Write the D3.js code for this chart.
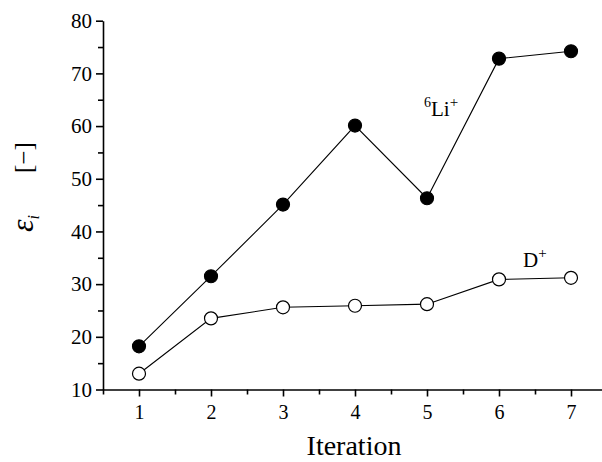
<!DOCTYPE html>
<html>
<head>
<meta charset="utf-8">
<script src="https://cdn.jsdelivr.net/npm/d3@7"></script>
<style>
  body { margin: 0; background: #fff; }
  svg { display: block; font-family: "Liberation Serif", "DejaVu Serif", serif; }
</style>
</head>
<body>
<div id="chart"></div>
<script>
const iterations = [1, 2, 3, 4, 5, 6, 7];
const li6 = [18.2, 31.5, 45.1, 60.1, 46.3, 72.8, 74.2];
const deut = [13.0, 23.5, 25.6, 25.9, 26.2, 30.9, 31.2];
const yTicks = [10, 20, 30, 40, 50, 60, 70, 80];

const width = 602, height = 462;

const x = d3.scaleLinear().domain([0.5, 7.5]).range([103, 607]);
const y = d3.scaleLinear().domain([10, 80]).range([389.5, 20.7]);

const svg = d3.select("#chart").append("svg")
    .attr("width", width)
    .attr("height", height)
    .attr("viewBox", [0, 0, width, height]);

// minor ticks
svg.append("g")
    .attr("transform", `translate(0,${y(10)})`)
    .call(d3.axisBottom(x).tickValues(d3.range(0.5, 8, 1)).tickSize(5).tickFormat(""))
    .call(g => g.select(".domain").remove());
svg.append("g")
    .attr("transform", `translate(${x(0.5)},0)`)
    .call(d3.axisLeft(y).tickValues(d3.range(15, 80, 10)).tickSize(5).tickFormat(""))
    .call(g => g.select(".domain").remove());

// major axes
svg.append("g")
    .attr("transform", `translate(0,${y(10)})`)
    .call(d3.axisBottom(x).tickValues(iterations).tickFormat(d3.format("d")).tickSize(7).tickPadding(8).tickSizeOuter(0))
    .call(g => g.selectAll("text").attr("font-size", 20).attr("font-family", "Liberation Serif"));

svg.append("g")
    .attr("transform", `translate(${x(0.5)},0)`)
    .call(d3.axisLeft(y).tickValues(yTicks).tickSize(7).tickPadding(4).tickSizeOuter(0))
    .call(g => g.selectAll("text").attr("font-size", 21).attr("font-family", "Liberation Serif"));

svg.selectAll(".tick line, .domain").attr("stroke-width", 1.6);

const line = d3.line().x((d, i) => x(iterations[i])).y(d => y(d));

[[li6, "#000"], [deut, "#fff"]].forEach(([vals, fill]) => {
    svg.append("path")
        .datum(vals)
        .attr("fill", "none")
        .attr("stroke", "#000")
        .attr("stroke-width", 1.1)
        .attr("d", line);
    svg.append("g").selectAll("circle")
        .data(vals)
        .join("circle")
        .attr("cx", (d, i) => x(iterations[i]))
        .attr("cy", d => y(d))
        .attr("r", 6.5)
        .attr("fill", fill)
        .attr("stroke", "#000")
        .attr("stroke-width", 1.2);
});

// series labels
const liLabel = svg.append("text").attr("x", 424).attr("y", 116).attr("font-size", 21);
liLabel.append("tspan").attr("font-size", 14).attr("dy", -9).text("6");
liLabel.append("tspan").attr("dy", 9).text("Li");
liLabel.append("tspan").attr("font-size", 15).attr("dy", -9).text("+");

const dLabel = svg.append("text").attr("x", 523).attr("y", 267).attr("font-size", 21);
dLabel.append("tspan").text("D");
dLabel.append("tspan").attr("font-size", 15).attr("dy", -9).text("+");

// axis titles
svg.append("text")
    .attr("x", 354)
    .attr("y", 455)
    .attr("text-anchor", "middle")
    .attr("font-size", 28)
    .text("Iteration");

const yl = svg.append("g").attr("transform", "translate(33,232) rotate(-90)");
const eps = yl.append("text").attr("x", 0).attr("y", 0).attr("font-size", 32).attr("font-style", "italic");
eps.append("tspan").text("ε");
eps.append("tspan").attr("font-size", 16).attr("dy", 6).text("i");
yl.append("text").attr("x", 59).attr("y", -1).attr("font-size", 25).text("[−]");
</script>
</body>
</html>
